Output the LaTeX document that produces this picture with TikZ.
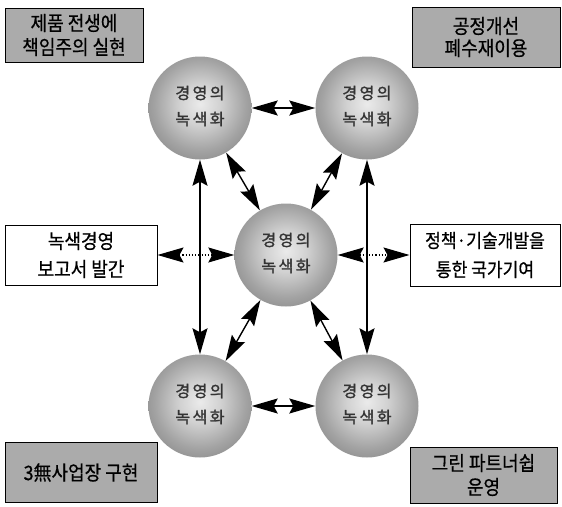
\documentclass[tikz,border=0pt]{standalone}
\usepackage{fontspec}
\setmainfont{Noto Sans CJK KR}
\newfontfamily\kr[FakeStretch=0.9,FakeBold=0.6]{Noto Sans CJK KR}
\newfontfamily\krb[FakeBold=1.6]{Noto Sans CJK KR}
\usetikzlibrary{arrows.meta}
\pgfdeclareradialshading{sphere}{\pgfpoint{0bp}{2bp}}{%
  color(0bp)=(black!8); color(10bp)=(black!18); color(22bp)=(black!36);
  color(38bp)=(black!55); color(50bp)=(black!66); color(80bp)=(black!66)}
\tikzset{
  ball/.style={circle, minimum size=103pt, inner sep=0pt, draw=none, shading=sphere},
  balltext/.style={align=center, font=\krb\fontsize{16}{26}\selectfont, text=black!80},
  graybox/.style={draw=black, line width=1pt, fill=black!33, align=center, inner sep=0pt},
  whitebox/.style={draw=black, line width=1pt, fill=white, align=center, inner sep=0pt},
  bigtip/.tip={Stealth[length=26pt,width=15pt,inset=4pt]},
  twoway/.style={line width=1.4pt, {bigtip}-{bigtip}},
  dotway/.style={line width=1.2pt, dotted, {bigtip}-{bigtip}}
}
\newcommand{\ballcap}{경\hspace{2.5pt}영\hspace{2.5pt}의\\녹\hspace{2.5pt}색\hspace{2.5pt}화}
\begin{document}
\begin{tikzpicture}[x=1pt,y=-1pt]
\useasboundingbox (0,0) rectangle (562,506);
% circles
\node[ball] (tl) at (200,108) {};
\node[ball] (tr) at (367,108) {};
\node[ball] (c)  at (286,255) {};
\node[ball] (bl) at (200,406) {};
\node[ball] (br) at (367,406) {};
\node[balltext] (tlt) at (200,106) {\ballcap};
\node[balltext] (trt) at (367,106) {\ballcap};
\node[balltext] (ct)  at (286,253) {\ballcap};
\node[balltext] (blt) at (200,404) {\ballcap};
\node[balltext] (brt) at (367,404) {\ballcap};
% boxes
\node[graybox, minimum width=138pt, minimum height=54pt, font=\kr\fontsize{20}{24}\selectfont] (b1) at (74,35) {제품 전생에\\책임주의 실현};
\node[graybox, minimum width=148pt, minimum height=60pt, font=\kr\fontsize{20}{22}\selectfont] (b2) at (486,37) {공정개선\\폐수재이용};
\node[whitebox, minimum width=152pt, minimum height=60pt, font=\kr\fontsize{20}{28}\selectfont] (b3) at (81,255) {녹색경영\\보고서 발간};
\node[whitebox, minimum width=150pt, minimum height=62pt, font=\kr\fontsize{19}{29}\selectfont] (b4) at (485,255) {정책·기술개발을\\통한 국가기여};
\node[graybox, minimum width=152pt, minimum height=60pt, font=\kr\fontsize{20}{24}\selectfont] (b5) at (81,472.5) {3無사업장 구현};
\node[graybox, minimum width=147pt, minimum height=56pt, font=\kr\fontsize{20}{24}\selectfont] (b6) at (483.5,475) {그린 파트너쉽\\운영};
% connectors
\draw[twoway] (tl) -- (tr);
\draw[twoway] (bl) -- (br);
\draw[twoway] (tl) -- (bl);
\draw[twoway] (tr) -- (br);
\draw[twoway] (tl) -- (c);
\draw[twoway] (tr) -- (c);
\draw[twoway] (c) -- (bl);
\draw[twoway] (c) -- (br);
\draw[dotway] (b3) -- (c);
\draw[dotway] (c) -- (b4);
\end{tikzpicture}
\end{document}
